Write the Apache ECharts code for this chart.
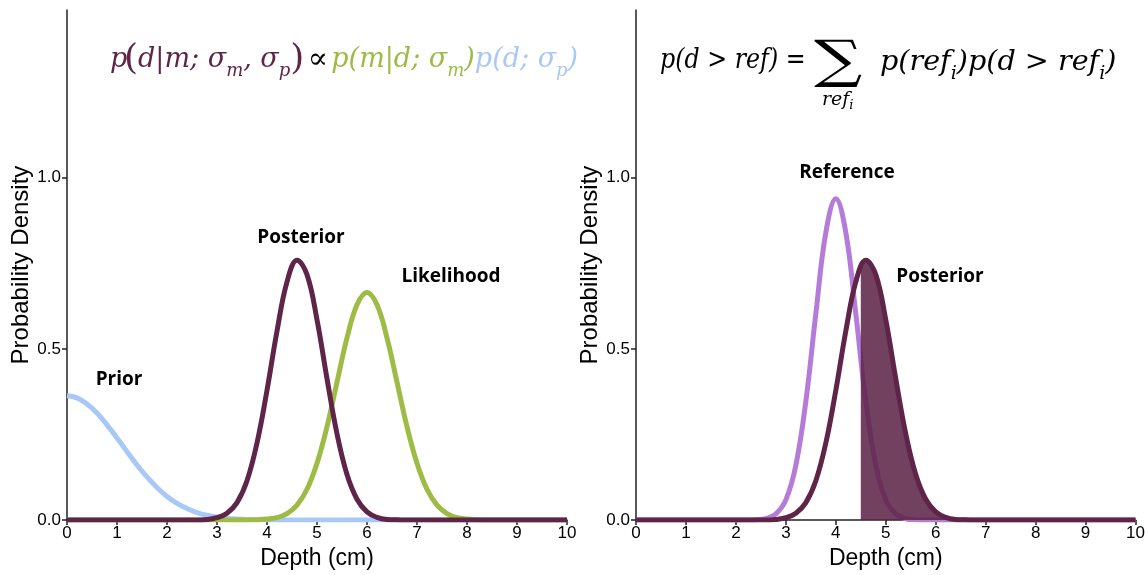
<!DOCTYPE html>
<html>
<head>
<meta charset="utf-8">
<title>Posterior vs reference</title>
<script src="https://cdn.jsdelivr.net/npm/echarts@6/dist/echarts.min.js"></script>
<style>
  html, body { margin: 0; padding: 0; background: #fff; }
  #main { width: 1148px; height: 575px; }
</style>
</head>
<body>
<div id="main"></div>
<script>
// depth samples (cm)
var depth = [0, 0.2, 0.4, 0.6, 0.8, 1, 1.2, 1.4, 1.6, 1.8, 2, 2.2, 2.4, 2.6, 2.8, 3, 3.2, 3.4, 3.6, 3.8,
  4, 4.2, 4.4, 4.6, 4.8, 5, 5.2, 5.4, 5.6, 5.8, 6, 6.2, 6.4, 6.6, 6.8, 7, 7.2, 7.4, 7.6, 7.8,
  8, 8.2, 8.4, 8.6, 8.8, 9, 9.2, 9.4, 9.6, 9.8, 10];

// densities
var prior = [0.363, 0.357, 0.339, 0.313, 0.278, 0.240, 0.200, 0.161, 0.126, 0.095, 0.069, 0.049, 0.034, 0.022, 0.014, 0.009, 0.005, 0.003, 0.002, 0.001,
  0.0005, 0, 0, 0, 0, 0, 0, 0, 0, 0, 0, 0, 0, 0, 0, 0, 0, 0, 0, 0,
  0, 0, 0, 0, 0, 0, 0, 0, 0, 0, 0];
var posterior = [0, 0, 0, 0, 0, 0, 0, 0, 0, 0, 0, 0, 0, 0, 0.002, 0.007, 0.020, 0.051, 0.115, 0.225,
  0.379, 0.552, 0.696, 0.759, 0.717, 0.585, 0.413, 0.252, 0.133, 0.061, 0.024, 0.008, 0.002, 0.001, 0, 0, 0, 0, 0, 0,
  0, 0, 0, 0, 0, 0, 0, 0, 0, 0, 0];
var likelihood = [0, 0, 0, 0, 0, 0, 0, 0, 0, 0, 0, 0, 0, 0, 0, 0, 0, 0, 0, 0.001,
  0.003, 0.007, 0.019, 0.044, 0.090, 0.166, 0.273, 0.403, 0.532, 0.629, 0.665, 0.629, 0.532, 0.403, 0.273, 0.166, 0.090, 0.044, 0.019, 0.007,
  0.003, 0.001, 0, 0, 0, 0, 0, 0, 0, 0, 0];
var reference = [0, 0, 0, 0, 0, 0, 0, 0, 0, 0, 0, 0, 0.001, 0.004, 0.018, 0.059, 0.160, 0.347, 0.603, 0.840,
  0.939, 0.840, 0.603, 0.347, 0.160, 0.059, 0.018, 0.004, 0.001, 0, 0, 0, 0, 0, 0, 0, 0, 0, 0, 0,
  0, 0, 0, 0, 0, 0, 0, 0, 0, 0, 0];

// shaded tail: d > 4.5
var cutDepth = 4.5;
var cutDensity = 0.739;

var xTicks = [0, 1, 2, 3, 4, 5, 6, 7, 8, 9, 10];
var yTicks = [0, 0.5, 1];

var colPost = '#5e2548';
var colLik = '#9dbb45';
var colPrior = '#a8c8f8';
var colRef = '#b57bd9';

function pairs(ys) {
  return depth.map(function (x, i) { return [x, ys[i]]; });
}
var tail = [[cutDepth, cutDensity]].concat(pairs(posterior).filter(function (p) { return p[0] > cutDepth; }));

var myChart = echarts.init(document.getElementById('main'));

function xAx(idx) {
  return {
    gridIndex: idx, type: 'value', min: 0, max: 10, interval: 1,
    name: 'Depth (cm)', nameLocation: 'middle', nameGap: 26,
    nameTextStyle: { fontFamily: 'Liberation Sans', fontSize: 23, color: '#000' },
    axisLine: { onZero: false, lineStyle: { color: '#222', width: 1.5 } },
    axisTick: { show: true, length: 5, lineStyle: { color: '#222', width: 1.5 } },
    axisLabel: { margin: 5, fontFamily: 'Liberation Sans', fontSize: 17, color: '#000' },
    splitLine: { show: false }
  };
}
function yAx(idx) {
  return {
    gridIndex: idx, type: 'value', min: 0, max: 1.49,
    name: 'Probability Density', nameLocation: 'middle', nameGap: 33,
    nameTextStyle: { fontFamily: 'Liberation Sans', fontSize: 24, color: '#000' },
    axisLine: { show: true, lineStyle: { color: '#222', width: 1.5 } },
    axisTick: { show: true, length: 5, customValues: yTicks, lineStyle: { color: '#222', width: 1.5 } },
    axisLabel: {
      margin: 6, fontFamily: 'Liberation Sans', fontSize: 17, color: '#000',
      customValues: yTicks,
      formatter: function (v) { return v.toFixed(1); }
    },
    splitLine: { show: false }
  };
}
function curve(name, ys, color, g, z) {
  return {
    name: name, type: 'line', data: pairs(ys), xAxisIndex: g, yAxisIndex: g,
    smooth: 0.4, showSymbol: false, silent: true, z: z,
    lineStyle: { color: color, width: 5 }
  };
}

var mathFont = 'DejaVu Serif';
var sub = function (c) { return { fontFamily: mathFont, fontStyle: 'italic', fontSize: 18, fill: c, verticalAlign: 'bottom', lineHeight: 18 }; };
var main = function (c) { return { fontFamily: mathFont, fontStyle: 'italic', fontSize: 27, fill: c, lineHeight: 40 }; };
var big = function (c) { return { fontFamily: mathFont, fontSize: 36, fill: c, lineHeight: 40 }; };
var lblStyle = { fontFamily: 'Open Sans', fontWeight: 'bold', fontSize: 19, fill: '#000', align: 'center', verticalAlign: 'middle' };

var option = {
  animation: false,
  backgroundColor: '#fff',
  grid: [
    { left: 67, right: 581, top: 10, bottom: 53 },
    { left: 636, right: 12, top: 10, bottom: 53 }
  ],
  xAxis: [xAx(0), xAx(1)],
  yAxis: [yAx(0), yAx(1)],
  series: [
    curve('Prior', prior, colPrior, 0, 2),
    curve('Likelihood', likelihood, colLik, 0, 3),
    curve('Posterior', posterior, colPost, 0, 4),
    curve('Reference', reference, colRef, 1, 2),
    {
      name: 'Tail', type: 'line', data: tail, xAxisIndex: 1, yAxisIndex: 1,
      smooth: 0.4, showSymbol: false, silent: true, z: 3,
      lineStyle: { width: 0 },
      areaStyle: { color: colPost, opacity: 0.87 }
    },
    curve('Posterior ', posterior, colPost, 1, 4)
  ],
  graphic: [
    // left formula
    { type: 'text', left: 110, top: 46, style: { text: 'p', fontFamily: mathFont, fontStyle: 'italic', fontSize: 27, fill: colPost } },
    {
      type: 'text', left: 124, top: 42,
      style: {
        text: '{mb|(}{m|d|m; σ}{ms|m}{m|, σ}{ms|p}{mb|)} {k|∝} {g|p(m|d; σ}{gs|m}{g|)}{b|p(d; σ}{bs|p}{b|)}',
        rich: {
          m: main(colPost), ms: sub(colPost), mb: big(colPost),
          k: { fontFamily: mathFont, fontSize: 30, fill: '#000', lineHeight: 40 },
          g: main(colLik), gs: sub(colLik),
          b: main(colPrior), bs: sub(colPrior)
        }
      }
    },
    // right formula
    {
      type: 'text', x: 660, y: 47, scaleX: 0.88,
      style: { text: 'p(d > ref) =', fontFamily: mathFont, fontStyle: 'italic', fontSize: 27, fill: '#000' }
    },
    {
      type: 'text', x: 814, y: 37, scaleX: 1.3,
      style: { text: '∑', fontFamily: mathFont, fontSize: 52, fill: '#000' }
    },
    {
      type: 'text', left: 822, top: 91,
      style: {
        text: '{m|ref}{s|i}',
        rich: {
          m: { fontFamily: mathFont, fontStyle: 'italic', fontSize: 19, fill: '#000', lineHeight: 24 },
          s: { fontFamily: mathFont, fontStyle: 'italic', fontSize: 13, fill: '#000', verticalAlign: 'bottom', lineHeight: 14 }
        }
      }
    },
    {
      type: 'text', x: 880, y: 43, scaleX: 1.06,
      style: {
        text: '{m|p(ref}{s|i}{m|)p(d > ref}{s|i}{m|)}',
        rich: { m: main('#000'), s: sub('#000') }
      }
    },
    // curve labels
    { type: 'text', x: 119, y: 380, style: Object.assign({ text: 'Prior' }, lblStyle) },
    { type: 'text', x: 301, y: 238, style: Object.assign({ text: 'Posterior' }, lblStyle) },
    { type: 'text', x: 451, y: 277, style: Object.assign({ text: 'Likelihood' }, lblStyle) },
    { type: 'text', x: 847, y: 173, style: Object.assign({ text: 'Reference' }, lblStyle) },
    { type: 'text', x: 940, y: 277, style: Object.assign({ text: 'Posterior' }, lblStyle) }
  ]
};

myChart.setOption(option);
</script>
</body>
</html>
